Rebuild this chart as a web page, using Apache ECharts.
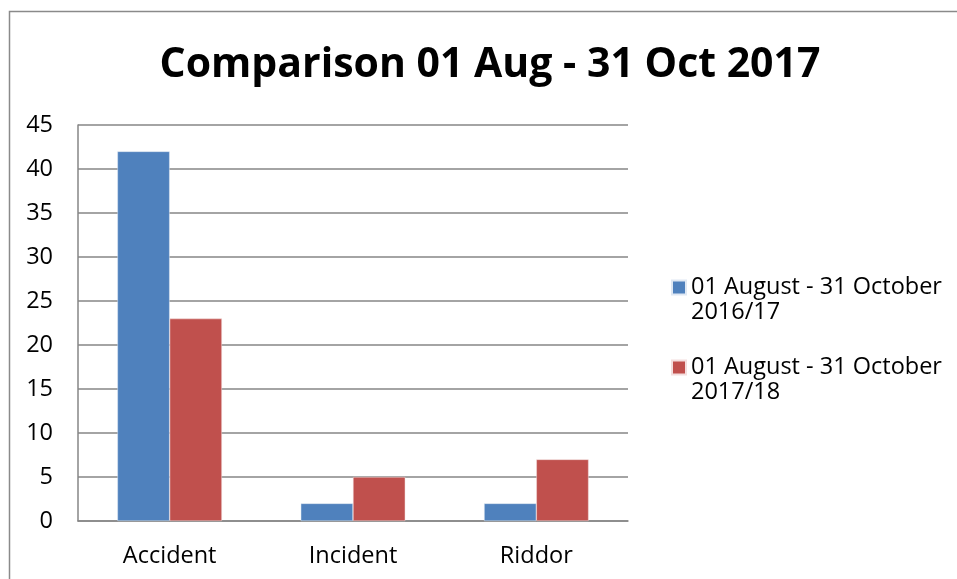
<!DOCTYPE html>
<html>
<head>
<meta charset="utf-8">
<script src="https://cdn.jsdelivr.net/npm/echarts@6/dist/echarts.min.js"></script>
<style>
html,body{margin:0;padding:0;background:#fff;}
#c{width:957px;height:579px;}
</style>
</head>
<body>
<div id="c"></div>
<script>
var titleText = 'Comparison 01 Aug - 31 Oct 2017';
var categories = ['Accident', 'Incident', 'Riddor'];
var seriesNames = ['01 August - 31 October\n2016/17', '01 August - 31 October\n2017/18'];
var values2016 = [42, 2, 2];
var values2017 = [23, 5, 7];
var yTicks = [0, 5, 10, 15, 20, 25, 30, 35, 40, 45];

var FONT = '"Open Sans"';
var FS = 23.5;
var chart = echarts.init(document.getElementById('c'), null, {renderer: 'canvas'});
chart.setOption({
  animation: false,
  backgroundColor: '#ffffff',
  title: {
    text: titleText,
    left: 485, textAlign: 'center',
    top: 40,
    textStyle: {fontFamily: FONT, fontWeight: 'bold', fontSize: 41, color: '#000'}
  },
  graphic: [{
    type: 'rect',
    shape: {x: 9.5, y: 11.5, width: 1000, height: 700},
    style: {fill: 'none', stroke: '#8a8a8a', lineWidth: 1.5},
    silent: true
  }],
  legend: {
    orient: 'vertical',
    left: 666, top: 245,
    itemWidth: 14, itemHeight: 14,
    itemGap: 5,
    icon: 'rect',
    formatter: function (n) { return '\n' + n; },
    textStyle: {fontFamily: FONT, fontSize: FS, color: '#000', lineHeight: 25},
    data: seriesNames
  },
  grid: {left: 78, right: 329, top: 125, bottom: 58},
  xAxis: {
    type: 'category',
    data: categories,
    axisLine: {show: true, lineStyle: {color: '#868686', width: 1.5}},
    axisTick: {show: false},
    axisLabel: {fontFamily: FONT, fontSize: FS, color: '#000', margin: 23}
  },
  yAxis: {
    type: 'value',
    min: 0, max: 45, interval: 5,
    axisLine: {show: true, lineStyle: {color: '#868686', width: 1.5}},
    axisTick: {show: false},
    splitLine: {lineStyle: {color: '#868686', width: 1.5}},
    axisLabel: {fontFamily: FONT, fontSize: FS, color: '#000', margin: 25,
      formatter: function (v) { return yTicks.indexOf(v) >= 0 ? String(v) : ''; }}
  },
  series: [{
    name: seriesNames[0], type: 'bar', data: values2016,
    barGap: '0%', barCategoryGap: '43%',
    itemStyle: {color: '#4F81BD', borderColor: '#dfe8f3', borderWidth: 0.5}
  }, {
    name: seriesNames[1], type: 'bar', data: values2017,
    barGap: '0%', barCategoryGap: '43%',
    itemStyle: {color: '#C0504D', borderColor: '#f3dede', borderWidth: 0.5}
  }]
});
</script>
</body>
</html>
